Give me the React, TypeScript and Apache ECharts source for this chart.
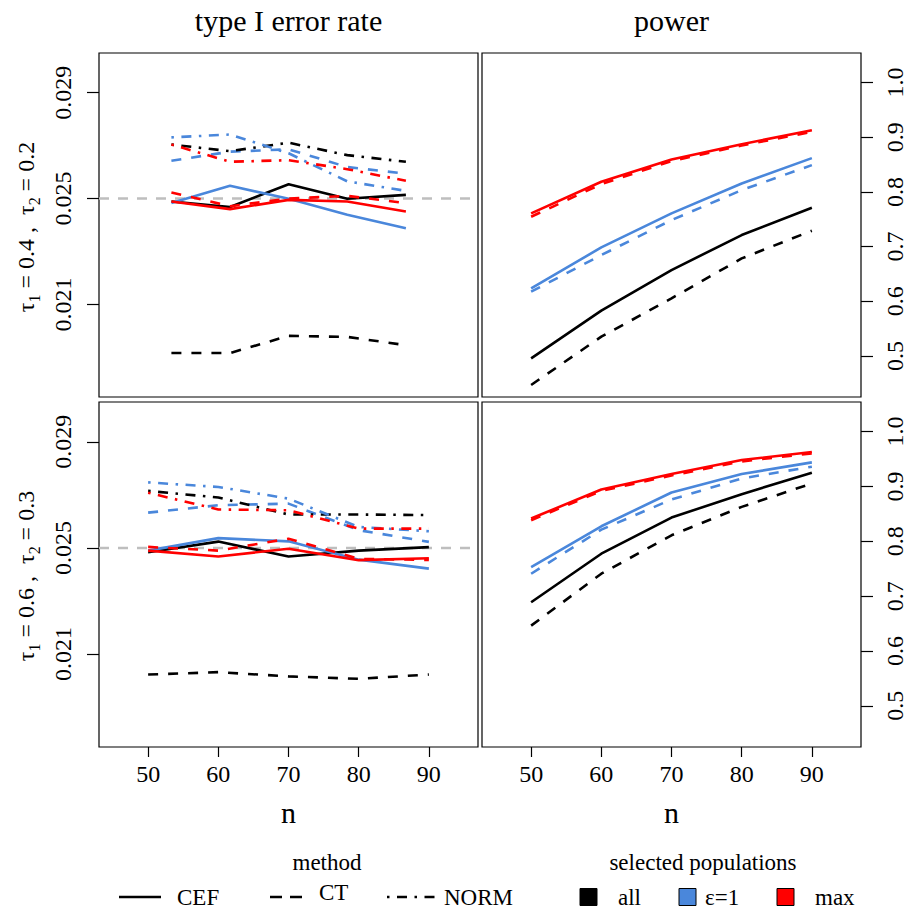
import React, { useEffect, useRef } from "react";
import * as echarts from "echarts";

// ---- data ----
const nValues = [50, 60, 70, 80, 90];
const nTicks = [50, 60, 70, 80, 90];
const errTicks = [0.021, 0.025, 0.029];
const powTicks = [0.5, 0.6, 0.7, 0.8, 0.9, 1.0];
const alphaLevel = 0.025;

// type I error, tau1=0.4, tau2=0.2
const t1_CEF_all = [0.02489, 0.02468, 0.02554, 0.02499, 0.02514];
const t1_CEF_eps = [0.02483, 0.02548, 0.02499, 0.02439, 0.02388];
const t1_CEF_max = [0.02489, 0.0246, 0.02495, 0.02489, 0.02451];
const t1_CT_all = [0.01916, 0.01916, 0.01981, 0.01977, 0.01946];
const t1_CT_eps = [0.02643, 0.02677, 0.02686, 0.02619, 0.02594];
const t1_CT_max = [0.02523, 0.02471, 0.025, 0.0251, 0.02483];
const t1_NORM_all = [0.02704, 0.02679, 0.02711, 0.02664, 0.02639];
const t1_NORM_eps = [0.02731, 0.02742, 0.02671, 0.02565, 0.02529];
const t1_NORM_max = [0.02704, 0.02639, 0.02645, 0.02611, 0.02567];

// type I error, tau1=0.6, tau2=0.3
const t2_CEF_all = [0.02484, 0.02524, 0.02468, 0.0249, 0.02503];
const t2_CEF_eps = [0.0249, 0.02537, 0.02525, 0.02456, 0.02422];
const t2_CEF_max = [0.0249, 0.02468, 0.02497, 0.02454, 0.02461];
const t2_CT_all = [0.02023, 0.02032, 0.02016, 0.02007, 0.02023];
const t2_CT_eps = [0.02633, 0.02661, 0.02667, 0.02567, 0.02523];
const t2_CT_max = [0.02504, 0.0249, 0.02535, 0.02459, 0.02455];
const t2_NORM_all = [0.02715, 0.0269, 0.02626, 0.02626, 0.02624];
const t2_NORM_eps = [0.02747, 0.0273, 0.02686, 0.02579, 0.02563];
const t2_NORM_max = [0.02708, 0.02645, 0.02642, 0.02573, 0.02573];

// power, tau1=0.4, tau2=0.2
const p1_CEF_all = [0.4957, 0.5828, 0.6571, 0.7211, 0.771];
const p1_CEF_eps = [0.6236, 0.6985, 0.7607, 0.8155, 0.8618];
const p1_CEF_max = [0.7607, 0.8185, 0.8593, 0.8873, 0.9129];
const p1_CT_all = [0.447, 0.5353, 0.6054, 0.6784, 0.729];
const p1_CT_eps = [0.6175, 0.6845, 0.7485, 0.8033, 0.849];
const p1_CT_max = [0.7546, 0.8143, 0.8563, 0.8849, 0.9099];

// power, tau1=0.6, tau2=0.3
const p2_CEF_all = [0.689, 0.7774, 0.8433, 0.886, 0.925];
const p2_CEF_eps = [0.753, 0.8274, 0.889, 0.9226, 0.9439];
const p2_CEF_max = [0.8415, 0.8945, 0.9226, 0.9482, 0.9628];
const p2_CT_all = [0.6463, 0.7409, 0.811, 0.8628, 0.9055];
const p2_CT_eps = [0.7409, 0.8213, 0.8762, 0.9146, 0.936];
const p2_CT_max = [0.8384, 0.892, 0.92, 0.9457, 0.9604];

const methods = ["CEF", "CT", "NORM"];
const populations = ["all", "ε=1", "max"];

// ---- styles ----
const FONT = "Liberation Serif";
const COL: Record<string, string> = { all: "#000000", "ε=1": "#4a87db", max: "#ff0000" };
const DASH: Record<string, any> = { CEF: "solid", CT: [10, 10], NORM: [2.5, 7.5, 10, 7.5] };

const TL_X = [37.65, 102.3];
const STD_X = [43, 97];

function mk(grid: number, method: string, pop: string, values: number[]) {
  return {
    type: "line",
    name: method + " " + pop,
    xAxisIndex: grid,
    yAxisIndex: grid,
    data: nValues.map((n, i) => [n, values[i]]),
    symbol: "none",
    showSymbol: false,
    silent: true,
    z: 3,
    lineStyle: { color: COL[pop], width: 2.6, type: DASH[method] },
    itemStyle: { color: COL[pop] },
  };
}

function refSeries(grid: number, range: number[]) {
  return {
    type: "line",
    name: "alpha " + grid,
    xAxisIndex: grid,
    yAxisIndex: grid,
    data: [
      [range[0], alphaLevel],
      [range[1], alphaLevel],
    ],
    symbol: "none",
    showSymbol: false,
    silent: true,
    z: 2,
    lineStyle: { color: "#bebebe", width: 2.6, type: [10, 9] },
    itemStyle: { color: "#bebebe" },
  };
}

export default function App() {
  const ref = useRef<HTMLDivElement>(null);
  useEffect(() => {
    if (!ref.current) return;
    const chart = echarts.init(ref.current, null, { renderer: "svg" });

    const gridBase = {
      show: true,
      borderColor: "#000",
      borderWidth: 1.2,
      backgroundColor: "transparent",
      containLabel: false,
      outerBoundsMode: "none",
    };
    const grids = [
      { ...gridBase, left: 99, top: 53, width: 379, height: 344 },
      { ...gridBase, left: 482, top: 53, width: 379, height: 344 },
      { ...gridBase, left: 99, top: 402, width: 379, height: 345 },
      { ...gridBase, left: 482, top: 402, width: 379, height: 345 },
    ];

    const hiddenX = (grid: number, range: number[]) => ({
      type: "value",
      gridIndex: grid,
      min: range[0],
      max: range[1],
      axisLine: { show: false },
      axisTick: { show: false },
      axisLabel: { show: false },
      splitLine: { show: false },
    });
    const shownX = (grid: number) => ({
      type: "value",
      gridIndex: grid,
      min: STD_X[0],
      max: STD_X[1],
      name: "n",
      nameLocation: "middle",
      nameGap: 50,
      nameTextStyle: { fontFamily: FONT, fontSize: 30, color: "#000" },
      axisLine: { show: false },
      axisTick: {
        show: true,
        customValues: nTicks,
        length: 10,
        lineStyle: { color: "#000", width: 1.2 },
      },
      axisLabel: {
        show: true,
        customValues: nTicks,
        margin: 15,
        fontFamily: FONT,
        fontSize: 24,
        color: "#000",
      },
      splitLine: { show: false },
    });
    const errY = (grid: number) => ({
      type: "value",
      gridIndex: grid,
      position: "left",
      min: 0.0175,
      max: 0.0305,
      axisLine: { show: false },
      axisTick: {
        show: true,
        customValues: errTicks,
        length: 12,
        lineStyle: { color: "#000", width: 1.2 },
      },
      axisLabel: {
        show: true,
        customValues: errTicks,
        rotate: 90,
        margin: 24,
        formatter: (v: number) => v.toFixed(3),
        fontFamily: FONT,
        fontSize: 24,
        color: "#000",
      },
      splitLine: { show: false },
    });
    const powY = (grid: number) => ({
      type: "value",
      gridIndex: grid,
      position: "right",
      min: 0.425,
      max: 1.054,
      axisLine: { show: false },
      axisTick: {
        show: true,
        customValues: powTicks,
        length: 12,
        lineStyle: { color: "#000", width: 1.2 },
      },
      axisLabel: {
        show: true,
        customValues: powTicks,
        rotate: 90,
        margin: 22,
        formatter: (v: number) => v.toFixed(1),
        fontFamily: FONT,
        fontSize: 24,
        color: "#000",
      },
      splitLine: { show: false },
    });

    const series: any[] = [
      // top-left
      refSeries(0, TL_X),
      mk(0, "CEF", "all", t1_CEF_all),
      mk(0, "CEF", "ε=1", t1_CEF_eps),
      mk(0, "CEF", "max", t1_CEF_max),
      mk(0, "CT", "all", t1_CT_all),
      mk(0, "CT", "ε=1", t1_CT_eps),
      mk(0, "CT", "max", t1_CT_max),
      mk(0, "NORM", "all", t1_NORM_all),
      mk(0, "NORM", "ε=1", t1_NORM_eps),
      mk(0, "NORM", "max", t1_NORM_max),
      // top-right
      mk(1, "CEF", "all", p1_CEF_all),
      mk(1, "CEF", "ε=1", p1_CEF_eps),
      mk(1, "CEF", "max", p1_CEF_max),
      mk(1, "CT", "all", p1_CT_all),
      mk(1, "CT", "ε=1", p1_CT_eps),
      mk(1, "CT", "max", p1_CT_max),
      // bottom-left
      refSeries(2, STD_X),
      mk(2, "CEF", "all", t2_CEF_all),
      mk(2, "CEF", "ε=1", t2_CEF_eps),
      mk(2, "CEF", "max", t2_CEF_max),
      mk(2, "CT", "all", t2_CT_all),
      mk(2, "CT", "ε=1", t2_CT_eps),
      mk(2, "CT", "max", t2_CT_max),
      mk(2, "NORM", "all", t2_NORM_all),
      mk(2, "NORM", "ε=1", t2_NORM_eps),
      mk(2, "NORM", "max", t2_NORM_max),
      // bottom-right
      mk(3, "CEF", "all", p2_CEF_all),
      mk(3, "CEF", "ε=1", p2_CEF_eps),
      mk(3, "CEF", "max", p2_CEF_max),
      mk(3, "CT", "all", p2_CT_all),
      mk(3, "CT", "ε=1", p2_CT_eps),
      mk(3, "CT", "max", p2_CT_max),
    ];

    const txt = (x: number, y: number, text: string, size: number, align = "left") => ({
      type: "text",
      x,
      y,
      silent: true,
      style: {
        text,
        fontFamily: FONT,
        fontSize: size,
        fill: "#000",
        align,
        verticalAlign: "middle",
      },
    });

    const rowRich = {
      a: { fontFamily: FONT, fontSize: 24, lineHeight: 32, verticalAlign: "middle", fill: "#000" },
      s: { fontFamily: FONT, fontSize: 16, lineHeight: 16, verticalAlign: "bottom", fill: "#000" },
    };
    const rowLabel = (y: number, t1: string, t2: string) => ({
      type: "text",
      x: 26,
      y,
      rotation: Math.PI / 2,
      silent: true,
      style: {
        text: `{a|τ}{s|1}{a| = ${t1} ,  τ}{s|2}{a| = ${t2}}`,
        rich: rowRich,
        align: "center",
        verticalAlign: "middle",
        fill: "#000",
      },
    });

    const lg = 897;
    const graphic: any[] = [
      txt(288.5, 20, "type I error rate", 30, "center"),
      txt(671.5, 20, "power", 30, "center"),
      rowLabel(227, "0.4", "0.2"),
      rowLabel(576, "0.6", "0.3"),
      txt(327, 862, "method", 23, "center"),
      txt(703, 862, "selected populations", 23, "center"),
      { type: "line", silent: true, shape: { x1: 119, y1: lg, x2: 161, y2: lg }, style: { stroke: COL.all, lineWidth: 2.6 } },
      txt(177, lg, methods[0], 23),
      { type: "line", silent: true, shape: { x1: 270, y1: lg, x2: 303, y2: lg }, style: { stroke: COL.all, lineWidth: 2.6, lineDash: [12, 8] } },
      txt(319, lg - 5, methods[1], 23),
      { type: "line", silent: true, shape: { x1: 387, y1: lg, x2: 435, y2: lg }, style: { stroke: COL.all, lineWidth: 2.6, lineDash: [2.5, 7.5, 10, 7.5] } },
      txt(444, lg, methods[2], 23),
      { type: "rect", silent: true, shape: { x: 580, y: lg - 8.5, width: 17, height: 17 }, style: { fill: COL.all, stroke: "#000", lineWidth: 1 } },
      txt(618, lg, populations[0], 23),
      { type: "rect", silent: true, shape: { x: 679, y: lg - 8.5, width: 17, height: 17 }, style: { fill: COL["ε=1"], stroke: "#000", lineWidth: 1 } },
      txt(705, lg, populations[1], 23),
      { type: "rect", silent: true, shape: { x: 777, y: lg - 8.5, width: 17, height: 17 }, style: { fill: COL.max, stroke: "#000", lineWidth: 1 } },
      txt(815, lg, populations[2], 23),
    ];

    chart.setOption({
      animation: false,
      backgroundColor: "#ffffff",
      textStyle: { fontFamily: FONT, color: "#000" },
      grid: grids,
      xAxis: [hiddenX(0, TL_X), hiddenX(1, STD_X), shownX(2), shownX(3)],
      yAxis: [errY(0), powY(1), errY(2), powY(3)],
      series,
      graphic,
    });
    return () => chart.dispose();
  }, []);

  return (
    <div
      ref={ref}
      style={{ position: "fixed", left: 0, top: 0, width: 907, height: 914, background: "#fff" }}
    />
  );
}
